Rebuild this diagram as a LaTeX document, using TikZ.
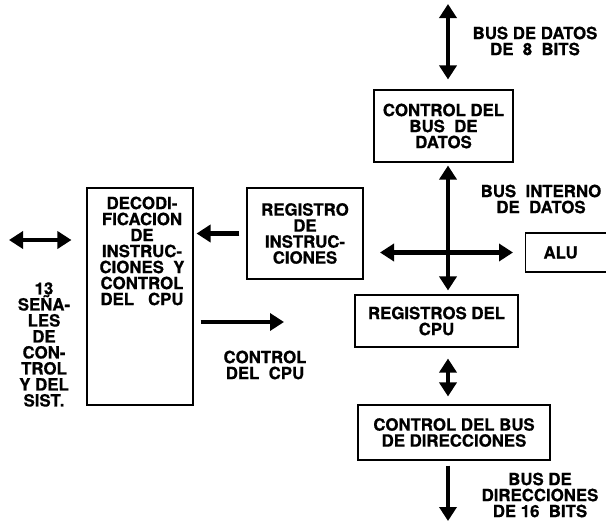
\documentclass[tikz,border=0pt]{standalone}
\usepackage{fontspec}
\setmainfont{TeX Gyre Heros}[BoldFeatures={FakeBold=0.7}]
\usetikzlibrary{arrows.meta, positioning}

\begin{document}
\begin{tikzpicture}[
        x=1pt, y=-1pt,
        font=\fontsize{16.8pt}{16pt}\selectfont\bfseries,
        box/.style={draw, line width=1.1pt, align=center, inner sep=2pt},
        txt/.style={align=center, inner sep=0pt},
        bus/.style={line width=4.5pt, >={Triangle[length=14pt, width=17pt]}}
    ]
        \useasboundingbox (0,0) rectangle (606,525);
        \clip (0,0) rectangle (606,525);

        \node[box, minimum width=106pt, minimum height=217pt] (decod) at (140,296.5) {};
        \node[txt, below=9pt of decod.north, xshift=2pt] (decodtxt)
            {DECODI-\\FICACION\\DE\\INSTRUC-\\CIONES\ \ Y\\CONTROL\\DEL\ \ \ CPU};
        \node[box, minimum width=116pt, minimum height=91pt] (regins) at (305,233.5) {REGISTRO\\DE\\INSTRUC-\\CIONES};
        \node[box, minimum width=139pt, minimum height=72pt] (cbd)    at (443.5,126)  {CONTROL DEL\\BUS\ \ DE\\DATOS};
        \node[box, minimum width=163pt, minimum height=52pt] (regcpu) at (436.5,321)  {REGISTROS DEL\\CPU};
        \node[box, minimum width=192pt, minimum height=55pt] (cdir)   at (454,432.5)  {CONTROL DEL BUS\\DE DIRECCIONES};
        \node[box, anchor=west, minimum height=39pt, text width=70pt, inner xsep=18pt, align=left] (alu) at (525,252.5) {ALU};

        \node[txt] (datos8)  at (535,41)    {BUS DE DATOS\\DE\ \ 8\ \ BITS};
        \node[txt] (interno) at (541,199)   {BUS\ \ INTERNO\\DE\ \ DATOS};
        \node[txt] (busdir)  at (540,495)   {BUS DE\\DIRECCIONES\\DE 16\ \ BITS};
        \node[txt] (ctlcpu)  at (265,365)   {CONTROL\\DEL\ \ CPU};
        \node[txt] (senales) at (44,344.5)  {13\\SEÑA-\\LES\\DE\\CON-\\TROL\\Y DEL\\SIST.};

        \coordinate (bx)     at (448,0);
        \coordinate (dtop)   at (448,4);
        \coordinate (dbot)   at (448,521);
        \coordinate (busL)   at (380,252.5);
        \coordinate (ctlend) at (284,322);
        \coordinate (sigL)   at (9,240);

        \draw[bus, <->, shorten >=10pt] (dtop) -- (cbd.north -| dtop);
        \foreach \a/\b/\s/\t in {cbd/regcpu/3pt/4pt, regcpu/cdir/11pt/8pt}
            {\draw[bus, <->, shorten <=\s, shorten >=\t] (\a.south -| bx) -- (\b.north -| bx);}
        \draw[bus, ->, shorten <=5pt] (cdir.south -| bx) -- (dbot);
        \draw[bus, <->, shorten >=12pt] (busL) -- (alu.west);
        \draw[bus, ->, shorten <=7pt, shorten >=3pt] (regins.west) -- (decod.east |- regins.west);
        \draw[bus, ->, shorten <=7pt] (decod.east |- ctlend) -- (ctlend);
        \draw[bus, <->, shorten >=15pt] (sigL) -- (decod.west |- sigL);
    \end{tikzpicture}
\end{document}
